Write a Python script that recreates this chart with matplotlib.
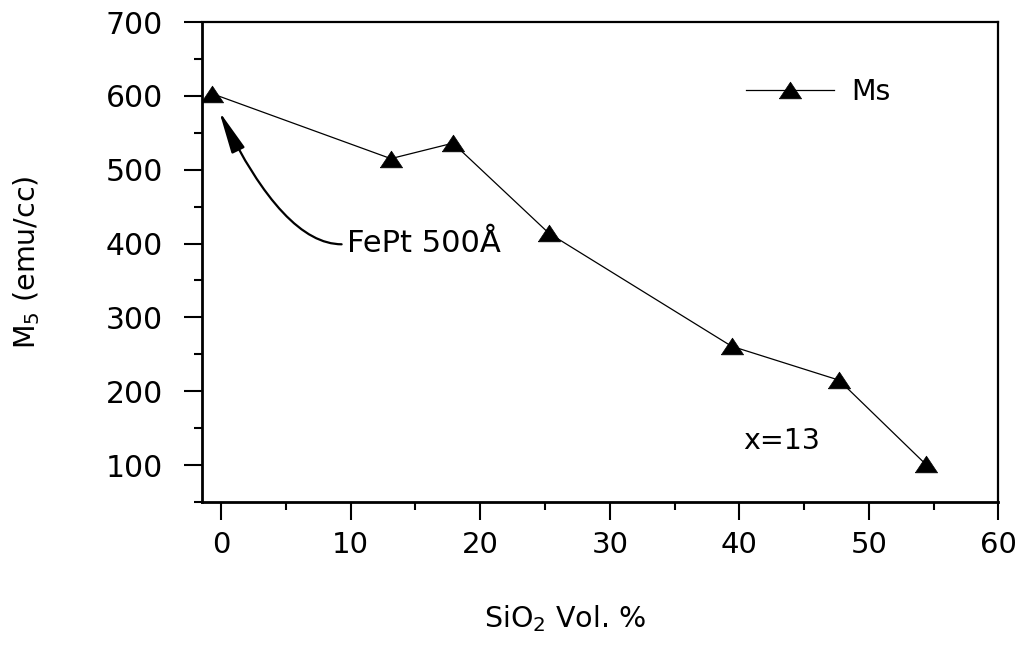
import matplotlib
matplotlib.use("Agg")
import matplotlib.pyplot as plt
from matplotlib.ticker import MultipleLocator

# Data
sio2_vol = [-0.7, 13.1, 17.9, 25.3, 39.4, 47.7, 54.4]
ms_values = [603, 515, 536, 414, 261, 215, 101]
x_ticks = [0, 10, 20, 30, 40, 50, 60]
y_ticks = [100, 200, 300, 400, 500, 600, 700]

plt.rcParams['font.family'] = ['DejaVu Sans']
plt.rcParams['mathtext.fontset'] = 'dejavusans'

fig = plt.figure(figsize=(10.25, 6.48), dpi=100)
ax = fig.add_axes([0.1968, 0.2253, 0.974 - 0.1968, 0.966 - 0.2253])

tri = [(-1, -0.75), (1, -0.75), (0, 0.75), (-1, -0.75)]
ax.plot(sio2_vol, ms_values, color='black', linewidth=0.9, marker=tri,
        markersize=16, markerfacecolor='black', markeredgecolor='black',
        markeredgewidth=0.5, label='Ms')

ax.set_xlim(-1.5, 60)
ax.set_ylim(50, 700)
ax.set_xticks(x_ticks)
ax.set_yticks(y_ticks)
ax.xaxis.set_minor_locator(MultipleLocator(5))
ax.yaxis.set_minor_locator(MultipleLocator(50))

for s in ax.spines.values():
    s.set_linewidth(1.6)
ax.spines['left'].set_linewidth(2.0)
ax.spines['bottom'].set_linewidth(2.0)

ax.tick_params(axis='both', which='major', direction='out', length=13,
               width=1.5, labelsize=21, top=False, right=False)
ax.tick_params(axis='x', which='major', pad=8)
ax.tick_params(axis='y', which='major', pad=15, labelsize=21.5)
ax.tick_params(axis='both', which='minor', direction='out', length=6,
               width=1.5, top=False, right=False)

ax.set_xlabel(r"SiO$_2$ Vol. %", fontsize=20.5)
ax.xaxis.set_label_coords(0.456, -0.21)
ax.set_ylabel(r"M$_5$ (emu/cc)", fontsize=20.5)
ax.yaxis.set_label_coords(-0.2, 0.5)

leg = ax.legend(loc='center left', bbox_to_anchor=(0.683, 0.855),
                frameon=False, fontsize=20.5, handlelength=3.1,
                handletextpad=0.6, borderpad=0, borderaxespad=0)

ax.text(9.7, 400, "FePt 500Å", fontsize=22, ha='left', va='center')
ax.annotate('', xy=(-0.15, 579), xytext=(9.3, 399),
            arrowprops=dict(arrowstyle='-|>,head_length=1.3,head_width=0.22',
                            connectionstyle='angle3,angleA=0,angleB=-64',
                            color='black', linewidth=1.6, mutation_scale=20,
                            shrinkA=0, shrinkB=0))

ax.text(40.3, 133, "x=13", fontsize=20.5, ha='left', va='center')

fig.savefig('out.png', dpi=100)
